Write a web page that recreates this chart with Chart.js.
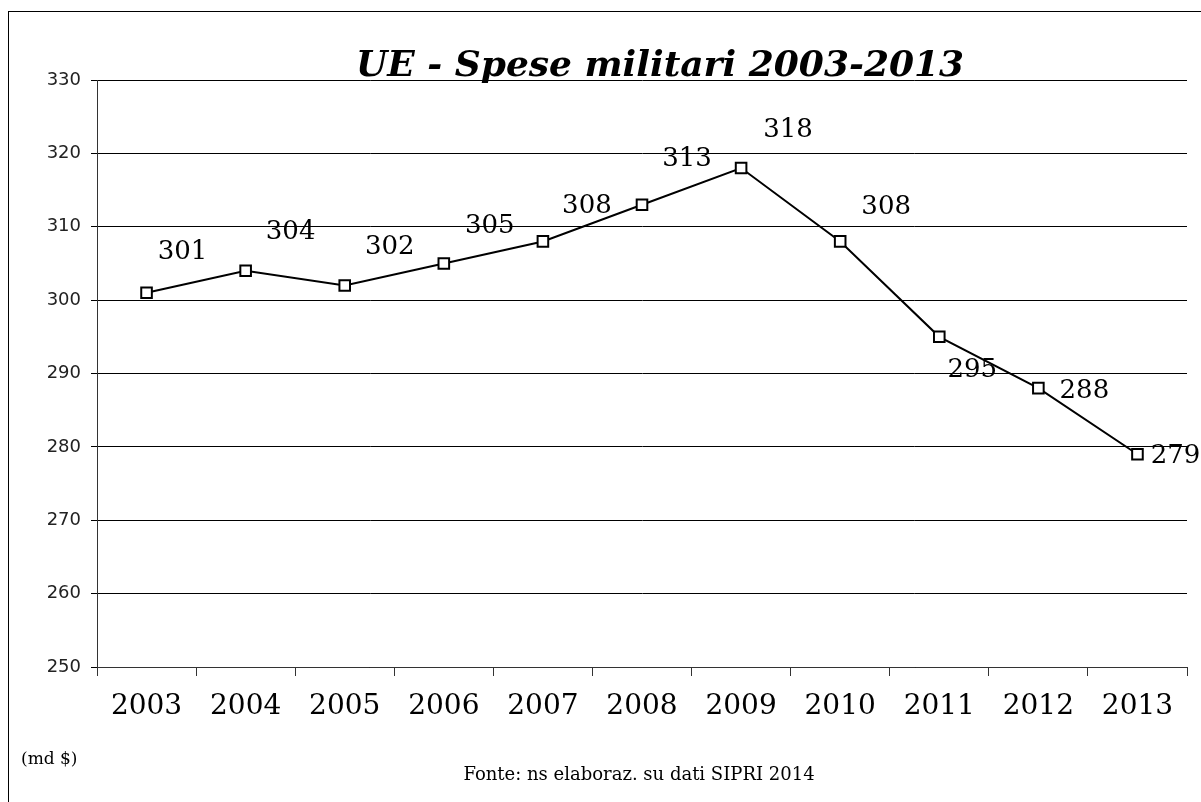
<!DOCTYPE html>
<html>
<head>
<meta charset="utf-8">
<script src="https://cdn.jsdelivr.net/npm/chart.js@4.4.1/dist/chart.umd.min.js"></script>
<style>
	html, body { margin: 0; padding: 0; background: #fff; }
	#wrap { width: 1201px; height: 802px; }
</style>
</head>
<body>
<div id="wrap"><canvas id="speseChart" width="1201" height="802"></canvas></div>
<script>
// dati (miliardi di $)
const years = ["2003", "2004", "2005", "2006", "2007", "2008", "2009", "2010", "2011", "2012", "2013"];
const spese = [301, 304, 302, 305, 308, 313, 318, 308, 295, 288, 279];
const yTicks = [250, 260, 270, 280, 290, 300, 310, 320, 330];

// where each value label sits relative to its point
const labelOffsets = [
	[36, -41], [45, -39], [45, -38], [46, -37], [44, -35], [45, -45],
	[47, -38], [46, -34], [33, 33], [46, 3], [38, 2]
];

const serif = "'DejaVu Serif', 'Liberation Serif', serif";

const extrasPlugin = {
	id: "extras",
	beforeDraw(chart) {
		const ctx = chart.ctx;
		ctx.save();
		ctx.fillStyle = "#fff";
		ctx.fillRect(0, 0, chart.width, chart.height);
		ctx.strokeStyle = "#000";
		ctx.lineWidth = 1;
		ctx.strokeRect(8.5, 11.5, 1400, 1000);
		ctx.restore();
	},
	afterDraw(chart) {
		const ctx = chart.ctx;
		ctx.save();
		ctx.fillStyle = "#000";
		ctx.textAlign = "center";
		ctx.textBaseline = "middle";
		ctx.font = "italic bold 36px " + serif;
		ctx.fillText("UE - Spese militari 2003-2013", 660, 67);

		ctx.font = "18px " + serif;
		ctx.fillText("Fonte: ns elaboraz. su dati SIPRI 2014", 639, 775);
		ctx.textAlign = "left";
		ctx.font = "17px " + serif;
		ctx.fillText("(md $)", 21, 760);

		// value labels
		const meta = chart.getDatasetMeta(0);
		ctx.font = "26px " + serif;
		ctx.textAlign = "center";
		meta.data.forEach((pt, i) => {
			const off = labelOffsets[i];
			ctx.fillText(String(spese[i]), pt.x + off[0], pt.y + off[1]);
		});
		ctx.restore();
	}
};

const speseChart = document.getElementById("speseChart");

new Chart(speseChart, {
	type: "line",
	data: {
		labels: years,
		datasets: [
			{
				label: "Spese militari",
				data: spese,
				borderColor: "#000",
				borderWidth: 2,
				tension: 0,
				pointStyle: "rect",
				pointRadius: 7.5,
				pointBorderWidth: 2,
				pointBackgroundColor: "#fff",
				pointBorderColor: "#000"
			}
		]
	},
	options: {
		responsive: false,
		animation: false,
		layout: {
			padding: { top: 80, right: 14, left: 0, bottom: 0 }
		},
		plugins: {
			legend: { display: false },
			tooltip: { enabled: false }
		},
		scales: {
			x: {
				offset: true,
				grid: {
					offset: true,
					drawOnChartArea: false,
					drawTicks: true,
					tickLength: 9,
					color: "#333"
				},
				border: { color: "#333", width: 1 },
				ticks: {
					color: "#000",
					padding: 14,
					font: { family: serif, size: 28 }
				},
				afterFit(scale) { scale.height = 135; }
			},
			y: {
				min: 250,
				max: 330,
				afterBuildTicks(scale) {
					scale.ticks = yTicks.map(v => ({ value: v }));
				},
				grid: {
					color: "#000",
					lineWidth: 1,
					drawTicks: true,
					tickLength: 6
				},
				border: { color: "#333", width: 1 },
				ticks: {
					color: "#222",
					padding: 10,
					font: { family: "'DejaVu Sans', sans-serif", size: 18 }
				},
				afterFit(scale) { scale.width = 97; }
			}
		}
	},
	plugins: [extrasPlugin]
});
</script>
</body>
</html>
